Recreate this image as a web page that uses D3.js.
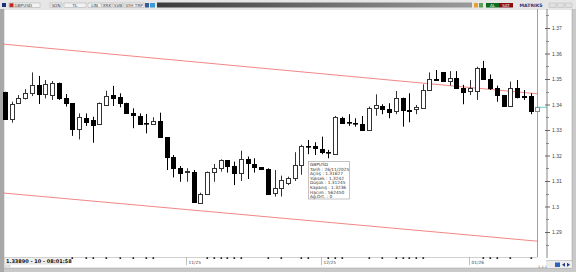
<!DOCTYPE html>
<html lang="en">
<head>
<meta charset="UTF-8">
<title>GBPUSD daily</title>
<style>
    body { margin: 0; padding: 0; background: #d4d4d4; }
    svg { display: block; font-family: "DejaVu Sans", Arial, sans-serif; }
    .tb-text { font-size: 4.2px; fill: #333; }
    .ytick { font-size: 5px; fill: #444; }
    .tip { font-size: 4.3px; fill: #333; }
</style>
</head>
<body>
<svg id="chart" width="576" height="272"></svg>
<script src="https://cdnjs.cloudflare.com/ajax/libs/d3/7.8.5/d3.min.js"></script>
<script>
// daily candles (oldest first)
const opens  = [1.3448,1.3342,1.3405,1.3427,1.3444,1.3477,1.3440,1.3437,1.3486,1.3424,
                1.3405,1.3303,1.3346,1.3338,1.3324,1.3398,1.3437,1.3431,1.3405,1.3368,
                1.3356,1.3329,1.3324,1.3335,1.3271,1.3193,1.3150,1.3134,1.3137,1.3015,
                1.3048,1.3137,1.3152,1.3182,1.3160,1.3130,1.3185,1.3167,1.3154,1.3146,
                1.3052,1.3071,1.3094,1.3111,1.31627,1.3239,1.3239,1.3226,1.3213,1.3206,
                1.3348,1.3333,1.3329,1.3324,1.3300,1.3388,1.3395,1.3382,1.3375,1.3427,
                1.3378,1.3382,1.3385,1.3457,1.3500,1.3526,1.3492,1.3505,1.3466,1.3453,
                1.3453,1.3544,1.3500,1.3463,1.3437,1.3395,1.3463,1.3435,1.3435,1.3375];
const highs  = [1.3450,1.3411,1.3437,1.3460,1.3526,1.3512,1.3496,1.3492,1.3486,1.3441,
                1.3405,1.3365,1.3365,1.3352,1.3408,1.3454,1.3473,1.3444,1.3407,1.3385,
                1.3365,1.3363,1.3350,1.3368,1.3271,1.3202,1.3159,1.3150,1.3143,1.3054,
                1.3137,1.3167,1.3185,1.3182,1.3176,1.3219,1.3196,1.3189,1.3154,1.3150,
                1.3143,1.3121,1.3117,1.3213,1.3242,1.3261,1.3252,1.3274,1.3222,1.3355,
                1.3352,1.3362,1.3346,1.3355,1.3392,1.3440,1.3401,1.3405,1.3453,1.3427,
                1.3444,1.3398,1.3479,1.3526,1.3535,1.3526,1.3531,1.3531,1.3477,1.3496,
                1.3548,1.3571,1.3518,1.3474,1.3437,1.3490,1.3496,1.3457,1.3444,1.3392];
const lows   = [1.3339,1.3329,1.3402,1.3420,1.3433,1.3402,1.3424,1.3418,1.3418,1.3392,
                1.3277,1.3263,1.3316,1.3250,1.3324,1.3394,1.3394,1.3389,1.3365,1.3307,
                1.3320,1.3287,1.3320,1.3271,1.3143,1.3114,1.3097,1.3097,1.3015,1.3013,
                1.3048,1.3097,1.3137,1.3133,1.3084,1.3100,1.3108,1.3133,1.3143,1.3045,
                1.3039,1.3039,1.3084,1.3100,1.31245,1.3205,1.3202,1.3205,1.3189,1.3202,
                1.3326,1.3316,1.3313,1.3296,1.3300,1.3356,1.3362,1.3346,1.3362,1.3313,
                1.3330,1.3362,1.3385,1.3453,1.3496,1.3490,1.3474,1.3466,1.3401,1.3437,
                1.3418,1.3500,1.3457,1.3411,1.3392,1.3392,1.3424,1.3418,1.3362,1.3375];
const closes = [1.3342,1.3402,1.3427,1.3446,1.3477,1.3440,1.3480,1.3486,1.3427,1.3405,
                1.3303,1.3350,1.3333,1.3320,1.3405,1.3435,1.3427,1.3405,1.3368,1.3358,
                1.3324,1.3326,1.3335,1.3271,1.3193,1.3150,1.3133,1.3139,1.3019,1.3048,
                1.3137,1.3150,1.3182,1.3159,1.3130,1.3185,1.3169,1.3156,1.3147,1.3049,
                1.3071,1.3104,1.3111,1.3163,1.3236,1.3237,1.3231,1.3212,1.3212,1.3350,
                1.3329,1.3330,1.3326,1.3300,1.3388,1.3398,1.3382,1.3372,1.3424,1.3378,
                1.3376,1.3392,1.3457,1.3500,1.3496,1.3492,1.3505,1.3466,1.3448,1.3463,
                1.3544,1.3500,1.3463,1.3437,1.3395,1.3463,1.3431,1.3431,1.3375,1.3389];

const priceTicks = [1.37, 1.36, 1.35, 1.34, 1.33, 1.32, 1.31, 1.30, 1.29];
const minorTicks = [1.375, 1.365, 1.355, 1.345, 1.335, 1.325, 1.315, 1.305, 1.295, 1.285];
const dateTickIdx = [27, 47, 69];
const dateTickLabels = ["11/25", "12/25", "01/26"];
const markerIdx = [10,12,13,15,17,19,21,22,30,31,32,33,34,35,39,41,44,45,48,49,50,
                   54,56,58,59,60,61,62,71,72,73,75,78];
// channel lines: [candle index, price]
const upperChannel = [[-0.3, 1.3637], [79, 1.3442]];
const lowerChannel = [[-0.3, 1.3053], [79, 1.2864]];
const lastPrice = 1.3389;
const tipLines = ["GBPUSD", "Tarih : 26/11/2025", "Açılış : 1.31627", "Yüksek : 1.3242",
                  "Düşük : 1.31245", "Kapanış : 1.3236", "Hacim : 562450", "Ağ.Ort. : 0"];
const toolbarLeft = ["SON", "TL", "LIN", "XRK", "SVB", "SYH TRP"];

const svg = d3.select('#chart');

const x = d3.scaleLinear().domain([0, 79]).range([5, 537.3]);
const y = d3.scaleLinear().domain([1.29, 1.37]).range([232, 28]);

// frame + plot background
svg.append('rect').attr('x', 0).attr('y', 0).attr('width', 576).attr('height', 272).attr('fill', '#c9c9c9');
svg.append('rect').attr('x', 4).attr('y', 9).attr('width', 568).attr('height', 259)
    .attr('fill', '#fff').attr('stroke', '#9a9a9a').attr('stroke-width', 0.5);
svg.append('rect').attr('x', 0).attr('y', 9).attr('width', 4).attr('height', 263).attr('fill', '#a8a8a8');

// top toolbar
const tb = svg.append('g');
tb.append('rect').attr('x', 0).attr('y', 0).attr('width', 576).attr('height', 9).attr('fill', '#e6e6e6');
const grad = svg.append('defs').append('linearGradient').attr('id', 'bar');
grad.append('stop').attr('offset', '0%').attr('stop-color', '#3c3c3c');
grad.append('stop').attr('offset', '100%').attr('stop-color', '#9a9a9a');
tb.append('rect').attr('x', 157).attr('y', 2.5).attr('width', 315).attr('height', 5).attr('fill', 'url(#bar)');
tb.append('rect').attr('x', 2).attr('y', 3).attr('width', 4).attr('height', 4).attr('fill', '#1c2f7a');
tb.append('rect').attr('x', 9).attr('y', 3).attr('width', 31).attr('height', 4.5).attr('fill', '#f4f4f4').attr('stroke', '#999').attr('stroke-width', 0.4);
tb.append('rect').attr('x', 9.5).attr('y', 3.3).attr('width', 4).attr('height', 3.8).attr('fill', '#c0282a');
tb.append('text').attr('class', 'tb-text').attr('x', 14.5).attr('y', 6.7).text('GBPUSD');
const tbX = [50, 64, 88, 102, 113, 124], tbW = [12, 22, 13, 10, 10, 20];
toolbarLeft.forEach((t, i) => {
    tb.append('rect').attr('x', tbX[i]).attr('y', 3).attr('width', tbW[i]).attr('height', 4.5)
        .attr('fill', '#f2f2f2').attr('stroke', '#999').attr('stroke-width', 0.4);
    tb.append('text').attr('class', 'tb-text').attr('x', tbX[i] + tbW[i] / 2).attr('y', 6.7)
        .attr('text-anchor', 'middle').text(t);
});
tb.append('rect').attr('x', 145).attr('y', 3).attr('width', 4).attr('height', 4.5).attr('fill', '#3a5a9a');
tb.append('rect').attr('x', 150).attr('y', 3).attr('width', 5).attr('height', 4.5).attr('fill', '#3a9ad8');
tb.append('rect').attr('x', 474).attr('y', 3).attr('width', 4).attr('height', 4.5).attr('fill', '#e8a030');
tb.append('rect').attr('x', 479).attr('y', 3).attr('width', 4).attr('height', 4.5).attr('fill', '#5aa05a');
tb.append('rect').attr('x', 486).attr('y', 3).attr('width', 13).attr('height', 4.5).attr('fill', '#0d6b1e');
tb.append('text').attr('class', 'tb-text').attr('x', 492.5).attr('y', 6.7).attr('text-anchor', 'middle').attr('fill', '#fff').style('fill', '#fff').text('AL');
tb.append('rect').attr('x', 499).attr('y', 3).attr('width', 14).attr('height', 4.5).attr('fill', '#8a0c12');
tb.append('text').attr('class', 'tb-text').attr('x', 506).attr('y', 6.7).attr('text-anchor', 'middle').style('fill', '#fff').text('SAT');
tb.append('text').attr('x', 531).attr('y', 7).attr('text-anchor', 'middle')
    .attr('font-size', 4.6).attr('font-weight', 'bold').attr('fill', '#28337a').text('MATRIKS');
[549, 557, 565].forEach(bx => {
    tb.append('rect').attr('x', bx).attr('y', 3).attr('width', 7).attr('height', 4.5)
        .attr('fill', '#e0e0e0').attr('stroke', '#aaa').attr('stroke-width', 0.4);
});

// right price axis area
svg.append('line').attr('x1', 537.5).attr('x2', 537.5).attr('y1', 9).attr('y2', 257)
    .attr('stroke', '#a0a0a0').attr('stroke-width', 1);
const axis = svg.append('g').attr('transform', 'translate(547,0)')
    .call(d3.axisRight(y).tickValues(priceTicks).tickSize(3).tickPadding(2)
        .tickFormat(d => String(+d.toFixed(2))));
axis.select('.domain').remove();
axis.selectAll('.tick line').attr('x1', -2).attr('x2', 3).attr('stroke', '#666');
axis.selectAll('.tick text').attr('class', 'ytick').attr('font-size', null).attr('fill', null);
svg.append('line').attr('x1', 547).attr('x2', 547).attr('y1', 9).attr('y2', 258)
    .attr('stroke', '#666').attr('stroke-width', 0.8);
svg.selectAll('.minor').data(minorTicks).enter().append('line').attr('class', 'minor')
    .attr('x1', 546).attr('x2', 549).attr('y1', d => Math.round(y(d)) + 0.5).attr('y2', d => Math.round(y(d)) + 0.5)
    .attr('stroke', '#777').attr('stroke-width', 0.8);

// channel lines
const line = d3.line().x(d => x(d[0])).y(d => y(d[1]));
[upperChannel, lowerChannel].forEach(c => {
    svg.append('path').attr('d', line(c)).attr('fill', 'none').attr('stroke', '#f07878').attr('stroke-width', 0.9);
});

// candles
const candles = opens.map((o, i) => ({ i, o, h: highs[i], l: lows[i], c: closes[i] }));
const cg = svg.append('g');
const last = candles.length - 1;
candles.forEach(d => {
    const cx = Math.round(x(d.i)) + 0.5;
    const up = d.c >= d.o;
    const col = d.i === last ? '#888' : (up ? '#333' : '#000');
    cg.append('line').attr('x1', cx).attr('x2', cx)
        .attr('y1', y(d.h)).attr('y2', y(d.l)).attr('stroke', col).attr('stroke-width', 1);
    const top = Math.round(y(Math.max(d.o, d.c))) + 0.5;
    const bot = Math.round(y(Math.min(d.o, d.c))) + 0.5;
    cg.append('rect').attr('x', cx - 2).attr('y', top).attr('width', 4).attr('height', Math.max(bot - top, 0.6))
        .attr('fill', up ? '#fff' : '#000').attr('stroke', col).attr('stroke-width', 1);
});

// last price marker
svg.append('line').attr('x1', 538).attr('x2', 547).attr('y1', y(lastPrice)).attr('y2', y(lastPrice))
    .attr('stroke', '#48c4c4').attr('stroke-width', 0.8);

// time axis
svg.append('line').attr('x1', 4).attr('x2', 537).attr('y1', 257.5).attr('y2', 257.5)
    .attr('stroke', '#b0b0b0').attr('stroke-width', 0.6);
svg.selectAll('.mk').data(markerIdx).enter().append('rect').attr('class', 'mk')
    .attr('x', d => Math.round(x(d)) - 0.5).attr('y', 257.3).attr('width', 1.6).attr('height', 1.6).attr('fill', '#111');
dateTickIdx.forEach((idx, k) => {
    const tx = Math.round(x(idx)) - 0.5;
    svg.append('line').attr('x1', tx).attr('x2', tx).attr('y1', 257).attr('y2', 265)
        .attr('stroke', '#999').attr('stroke-width', 0.6);
    svg.append('text').attr('x', tx + 2).attr('y', 264).attr('font-size', 4.3).attr('fill', '#444')
        .text(dateTickLabels[k]);
});
svg.append('rect').attr('x', 4.5).attr('y', 257.5).attr('width', 62).attr('height', 6.5)
    .attr('fill', '#f0f0f0').attr('stroke', '#bbb').attr('stroke-width', 0.4);
svg.append('text').attr('x', 6).attr('y', 262.8).attr('font-size', 5).attr('font-weight', 'bold')
    .attr('fill', '#111').text(lastPrice.toFixed(5) + ' - 10 - 08:01:58');
svg.append('rect').attr('x', 5).attr('y', 265).attr('width', 5).attr('height', 3).attr('fill', '#e4e4e4').attr('stroke', '#bbb').attr('stroke-width', 0.3);

// bottom right corner
svg.append('line').attr('x1', 546).attr('x2', 572).attr('y1', 260.5).attr('y2', 260.5).attr('stroke', '#aaa').attr('stroke-width', 0.6);
svg.append('rect').attr('x', 546).attr('y', 261).attr('width', 26).attr('height', 7).attr('fill', '#ececec');
svg.append('text').attr('x', 538).attr('y', 268).attr('font-size', 3.6).attr('fill', '#666').text('1.1.1');
svg.append('rect').attr('x', 555).attr('y', 262.5).attr('width', 5).attr('height', 4.5).attr('fill', '#2f63b8');
svg.append('path').attr('d', 'M562,264.8 L565,262.8 L565,266.8 Z').attr('fill', '#1d3d8a');
svg.append('path').attr('d', 'M570,264.8 L567,262.8 L567,266.8 Z').attr('fill', '#1d3d8a');

// info box
const tip = svg.append('g');
tip.append('rect').attr('x', 308.5).attr('y', 161.5).attr('width', 41).attr('height', 37.5)
    .attr('fill', '#fff').attr('stroke', '#9a9a9a').attr('stroke-width', 0.6);
tipLines.forEach((t, k) => {
    tip.append('text').attr('class', 'tip').attr('x', 310).attr('y', 166 + k * 4.6).text(t);
});
</script>
</body>
</html>
